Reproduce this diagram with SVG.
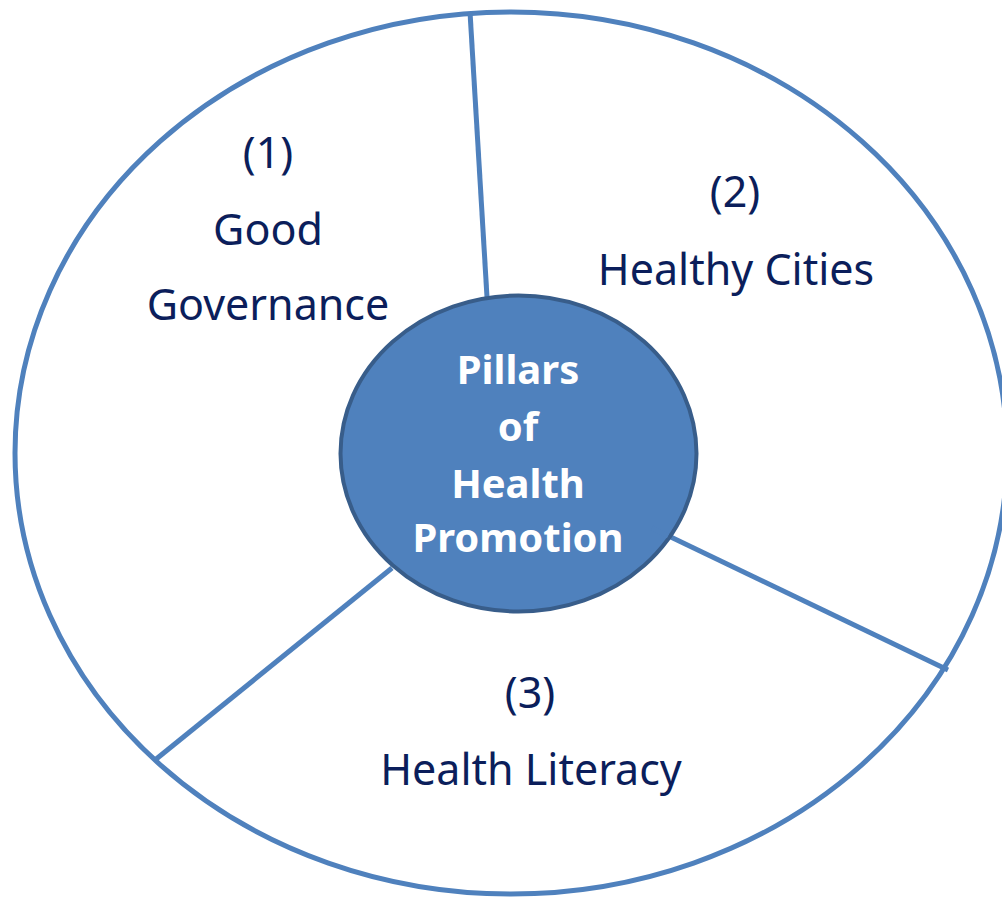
<svg xmlns="http://www.w3.org/2000/svg" width="1002" height="897" viewBox="0 0 1002 897">
<style>
.lbl{font-family:"Noto Sans","Open Sans","Liberation Sans",sans-serif;font-size:43px;fill:#0B1E5B;text-anchor:middle}
.ctr{font-family:"Noto Sans","Open Sans","Liberation Sans",sans-serif;font-size:40px;font-weight:bold;fill:#FFFFFF;text-anchor:middle}
.conn{stroke:#4F81BD;stroke-width:5;fill:none}
</style>
<rect width="1002" height="897" fill="#FFFFFF"/>
<g id="outer">
<ellipse cx="511" cy="453" rx="496" ry="441" fill="#FFFFFF" stroke="#4F81BD" stroke-width="5"/>
</g>
<g id="connectors">
<line class="conn" x1="470" y1="12" x2="487" y2="297"/>
<line class="conn" x1="948" y1="670" x2="652" y2="528"/>
<line class="conn" x1="155" y1="760" x2="392" y2="568"/>
</g>
<g id="center">
<ellipse cx="518.5" cy="453.5" rx="178" ry="158" fill="#4F81BD" stroke="#385D8A" stroke-width="4"/>
<line x1="652" y1="528" x2="668" y2="536" stroke="#4F81BD" stroke-width="5"/>
<text class="ctr" x="518" y="384">Pillars</text>
<text class="ctr" x="518" y="441">of</text>
<text class="ctr" x="518" y="498">Health</text>
<text class="ctr" x="518" y="552">Promotion</text>
</g>
<g id="pillar1">
<text class="lbl" x="268" y="168">(1)</text>
<text class="lbl" x="268" y="245">Good</text>
<text class="lbl" x="268" y="320">Governance</text>
</g>
<g id="pillar2">
<text class="lbl" x="735" y="207">(2)</text>
<text class="lbl" x="736" y="285">Healthy Cities</text>
</g>
<g id="pillar3">
<text class="lbl" x="530" y="708">(3)</text>
<text class="lbl" x="531" y="785">Health Literacy</text>
</g>
</svg>
